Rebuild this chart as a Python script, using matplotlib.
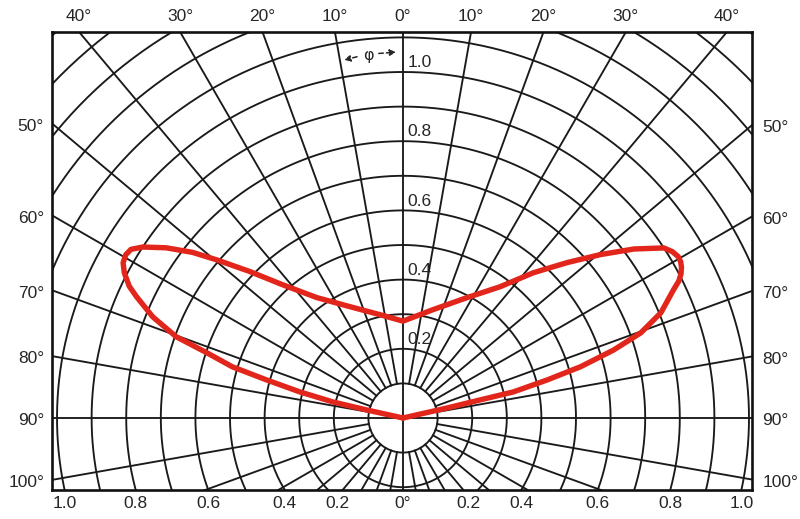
import numpy as np
import matplotlib
matplotlib.use('Agg')
import matplotlib.pyplot as plt

plt.rcParams['font.family'] = ['Liberation Sans', 'DejaVu Sans']

# curva de intensidad relativa (angulo en grados desde la vertical)
ang_izq = [0, 12.6, 26.5, 35.6, 42.1, 46.3, 49.7, 51.8, 54.3, 56.7, 58.2, 59.5, 61.0,
           62.5, 64.3, 65.5, 68.0, 70.3, 71.6, 73.3, 74.4, 75.8, 77.1, 77.5, 90]
r_izq = [0.28, 0.306, 0.362, 0.428, 0.519, 0.613, 0.707, 0.774, 0.843, 0.900, 0.925, 0.930, 0.925,
         0.908, 0.878, 0.847, 0.780, 0.696, 0.598, 0.515, 0.410, 0.308, 0.208, 0.107, 0.0]
ang_der = [0, 15.5, 28.0, 36.5, 41.9, 46.6, 50.4, 53.8, 56.9, 58.3, 59.6, 60.6, 61.6, 62.6, 63.6,
           64.6, 67.8, 70.3, 72.1, 73.9, 75.2, 76.7, 76.8, 77.2, 90]
r_der = [0.28, 0.325, 0.394, 0.472, 0.564, 0.654, 0.741, 0.827, 0.900, 0.915, 0.922, 0.921, 0.915, 0.905, 0.890,
         0.866, 0.805, 0.730, 0.640, 0.534, 0.432, 0.328, 0.229, 0.131, 0.0]

etiq_sup = [0, 10, 20, 30, 40]          # grados arriba
etiq_lat = [50, 60, 70, 80, 90, 100]    # grados a los lados
etiq_rad = [0.2, 0.4, 0.6, 0.8, 1.0]    # valores relativos

# limites del area (1 unidad = 346 px)
x0, x1 = -1.0145, 1.0087
y0, y1 = -0.2081, 1.1156

fig = plt.figure(figsize=(8, 5.19), dpi=100)
ax = fig.add_axes([52/800, 29/519, 700/800, 458/519])
ax.set_xlim(x0, x1)
ax.set_ylim(y0, y1)
ax.set_xticks([])
ax.set_yticks([])
for s in ax.spines.values():
    s.set_linewidth(1.9)
    s.set_color('#111111')

gris = '#1a1a1a'
t = np.linspace(0, 2*np.pi, 721)
for r in np.arange(0.1, 1.55, 0.1):
    ax.plot(r*np.sin(t), r*np.cos(t), color=gris, lw=1.35)

for a in range(0, 360, 10):
    ar = np.radians(a)
    ini = 0.0 if a % 90 == 0 else 0.1
    ax.plot([ini*np.sin(ar), 2*np.sin(ar)], [ini*np.cos(ar), 2*np.cos(ar)], color=gris, lw=1.35)

# curva roja
th = np.concatenate([-np.radians(ang_izq[::-1]), np.radians(ang_der)])
rr = np.concatenate([r_izq[::-1], r_der])
ax.plot(rr*np.sin(th), rr*np.cos(th), color='#e3261c', lw=3.9, solid_joinstyle='round',
        solid_capstyle='round', zorder=5)

col = '#262626'
fs = 12.5
# etiquetas superiores
for a in etiq_sup:
    xs = y1*np.tan(np.radians(a))
    ax.text(xs, y1 + 0.044, f'{a}°', ha='center', va='center', fontsize=fs, color=col)
    if a > 0:
        ax.text(-xs, y1 + 0.044, f'{a}°', ha='center', va='center', fontsize=fs, color=col)

# etiquetas laterales
for a in etiq_lat:
    yl = -x0/np.tan(np.radians(a)) if a != 90 else 0.0
    ax.text(x0 - 0.023, yl - 0.008, f'{a}°', ha='right', va='center', fontsize=fs, color=col)
    yr = x1/np.tan(np.radians(a)) if a != 90 else 0.0
    ax.text(x1 + 0.03, yr - 0.008, f'{a}°', ha='left', va='center', fontsize=fs, color=col)

# valores sobre el eje vertical
for v in etiq_rad:
    ax.text(0.012, v + 0.005, f'{v:.1f}', ha='left', va='bottom', fontsize=fs, color=col)

# valores abajo
yb = y0
for v in etiq_rad:
    xb = np.sqrt(v**2 - yb**2) if v > abs(yb) else 0.19
    ax.text(-xb, yb - 0.04, f'{v:.1f}', ha='center', va='center', fontsize=fs, color=col)
    ax.text(xb, yb - 0.04, f'{v:.1f}', ha='center', va='center', fontsize=fs, color=col)
ax.text(0, yb - 0.04, '0°', ha='center', va='center', fontsize=fs, color=col)

# flecha phi
ax.text(-0.101, 1.049, 'φ', ha='center', va='center', fontsize=11.5, color=col,
        family=['DejaVu Sans'])
ax.annotate('', xy=(-0.178, 1.033), xytext=(-0.125, 1.046),
            arrowprops=dict(arrowstyle='-|>', color=col, lw=1.1, ls=(0, (3, 2)), mutation_scale=9))
ax.annotate('', xy=(-0.012, 1.058), xytext=(-0.078, 1.053),
            arrowprops=dict(arrowstyle='-|>', color=col, lw=1.1, ls=(0, (3, 2)), mutation_scale=9))

plt.savefig('out.png', dpi=100)
